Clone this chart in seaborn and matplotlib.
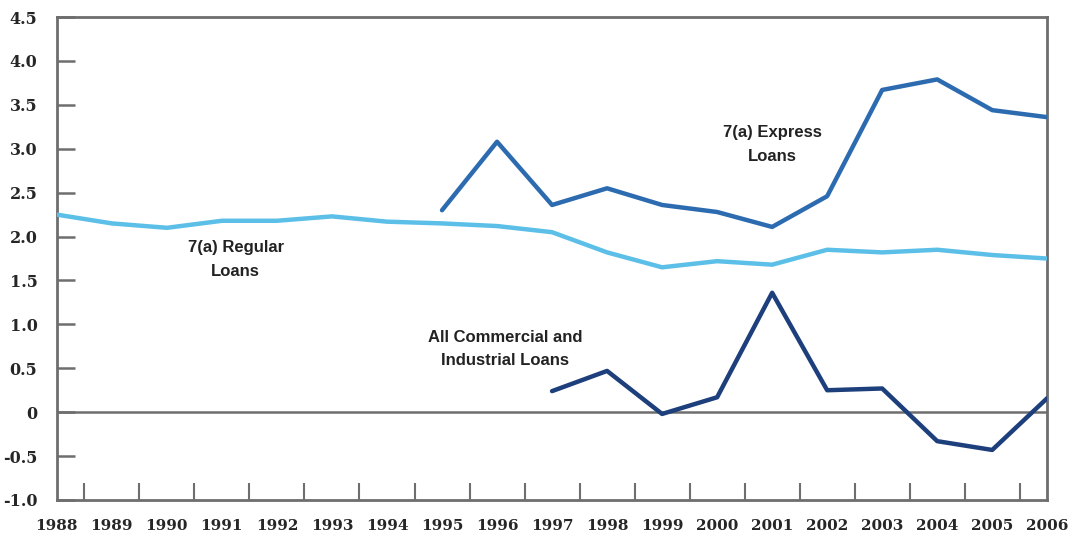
import matplotlib.pyplot as plt
import numpy as np
import pandas as pd
import seaborn as sns

# data
years = list(range(1988, 2007))
regular = [2.25, 2.15, 2.10, 2.18, 2.18, 2.23, 2.17, 2.15, 2.12, 2.05,
           1.82, 1.65, 1.72, 1.68, 1.85, 1.82, 1.85, 1.79, 1.75]
express_years = list(range(1995, 2007))
express = [2.30, 3.08, 2.36, 2.55, 2.36, 2.28, 2.11, 2.46, 3.67, 3.79, 3.44, 3.36]
ci_years = list(range(1997, 2007))
ci_loans = [0.24, 0.47, -0.02, 0.17, 1.36, 0.25, 0.27, -0.33, -0.43, 0.16]

y_ticks = [4.5, 4.0, 3.5, 3.0, 2.5, 2.0, 1.5, 1.0, 0.5, 0, -0.5, -1.0]
y_labels = ["4.5", "4.0", "3.5", "3.0", "2.5", "2.0", "1.5", "1.0", "0.5", "0", "-0.5", "-1.0"]


def main():
    sns.set_style("white")
    plt.rcParams['font.family'] = ['Liberation Sans Narrow', 'Liberation Sans', 'DejaVu Sans']

    df_reg = pd.DataFrame({"year": years, "value": regular})
    df_exp = pd.DataFrame({"year": express_years, "value": express})
    df_ci = pd.DataFrame({"year": ci_years, "value": ci_loans})

    fig = plt.figure(figsize=(10.73, 5.42), dpi=100)
    ax = fig.add_axes([0.053, 0.0775, 0.923, 0.891])

    spine_col = "#6e6e6e"
    ax.axhline(0, color=spine_col, lw=1.8, zorder=1)

    sns.lineplot(data=df_reg, x="year", y="value", color="#5cbfe8", lw=3.2, ax=ax, zorder=3)
    sns.lineplot(data=df_exp, x="year", y="value", color="#2d6bb0", lw=3.2, ax=ax, zorder=3)
    sns.lineplot(data=df_ci, x="year", y="value", color="#1d3f7c", lw=3.2, ax=ax, zorder=3)

    ax.set_xlim(1988, 2006)
    ax.set_ylim(-1.0, 4.5)
    ax.set_xlabel("")
    ax.set_ylabel("")

    # y ticks pointing inwards
    ax.set_yticks(y_ticks)
    ax.set_yticklabels(y_labels, family="DejaVu Serif", fontweight="bold", fontsize=11.5)
    ax.tick_params(axis="y", left=True, direction="in", length=13, width=1.8,
                   color=spine_col, pad=14)

    # years labelled at the points, tick marks between them
    ax.set_xticks(years)
    ax.set_xticklabels([str(y) for y in years], family="DejaVu Serif", fontweight="bold", fontsize=11)
    ax.tick_params(axis="x", which="major", bottom=False, length=0, pad=14)
    ax.set_xticks([y + 0.5 for y in years[:-1]], minor=True)
    ax.tick_params(axis="x", which="minor", bottom=True, direction="in", length=12, width=1.5,
                   color=spine_col)

    for s in ax.spines.values():
        s.set_color(spine_col)
        s.set_linewidth(2)

    # series labels
    lab = dict(ha="center", va="center", fontsize=12, fontweight="bold", color="#222222",
               linespacing=1.7)
    ax.text(1991.25, 1.74, "7(a) Regular\nLoans", **lab)
    ax.text(2001.0, 3.05, "7(a) Express\nLoans", **lab)
    ax.text(1996.15, 0.72, "All Commercial and\nIndustrial Loans", **lab)

    plt.savefig("out.png", dpi=100)


if __name__ == "__main__":
    main()
